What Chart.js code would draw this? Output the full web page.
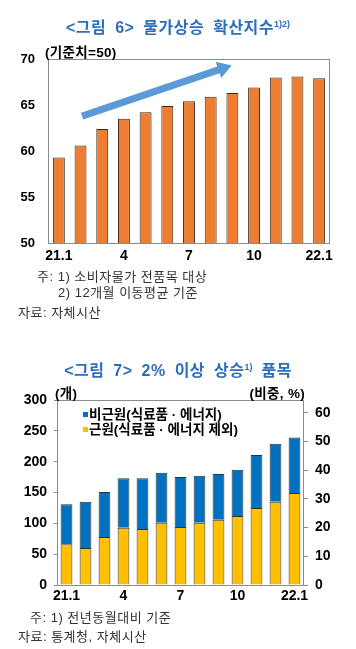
<!DOCTYPE html>
<html><head><meta charset="utf-8">
<script src="https://cdn.jsdelivr.net/npm/chart.js@4/dist/chart.umd.min.js"></script>
<style>
body{margin:0;background:#fff;}
#wrap{position:relative;width:356px;height:649px;overflow:hidden;font-family:"Liberation Sans","Noto Sans CJK KR",sans-serif;color:#000;}
canvas{position:absolute;left:0;}
.t{position:absolute;white-space:nowrap;}
.title{left:0;width:356px;text-align:center;font-weight:bold;font-size:16px;line-height:20px;color:#2e6fba;letter-spacing:0.5px;word-spacing:4px;}
.title sup{font-size:9px;vertical-align:6px;line-height:0;letter-spacing:0;}
.unit{font-weight:bold;font-size:13.5px;line-height:16px;letter-spacing:0.3px;}
.note{font-size:13px;line-height:16px;color:#333;letter-spacing:0.5px;}
.leg{font-weight:bold;font-size:13.5px;line-height:15px;}
.sq{display:inline-block;width:5px;height:5px;margin-right:1px;vertical-align:2px;}
</style></head>
<body><div id="wrap">
<canvas id="c1" width="356" height="270" style="top:0"></canvas>
<canvas id="c2" width="356" height="270" style="top:380px"></canvas>

<div class="t title" style="top:18px">&lt;그림 6&gt; 물가상승 확산지수<sup>1)2)</sup></div>
<div class="t unit" style="left:45px;top:45px">(기준치=50)</div>
<div class="t note" style="left:37px;top:269px">주: 1) 소비자물가 전품목 대상</div>
<div class="t note" style="left:58px;top:285px">2) 12개월 이동평균 기준</div>
<div class="t note" style="left:18px;top:305px">자료: 자체시산</div>

<div class="t title" style="top:361px">&lt;그림 7&gt; 2% 이상 상승<sup>1)</sup> 품목</div>
<div class="t unit" style="left:55px;top:386px">(개)</div>
<div class="t unit" style="right:51px;top:386px">(비중, %)</div>
<div class="t leg" style="left:83px;top:407px"><span class="sq" style="background:#0070c0"></span>비근원(식료품 · 에너지)</div>
<div class="t leg" style="left:83px;top:422px"><span class="sq" style="background:#ffc000"></span>근원(식료품 · 에너지 제외)</div>
<div class="t note" style="left:30px;top:610px">주: 1) 전년동월대비 기준</div>
<div class="t note" style="left:18px;top:629px">자료: 통계청, 자체시산</div>
</div>
<script>
// ---- data ----
const months = ['21.1','2','3','4','5','6','7','8','9','10','11','12','22.1'];
const shownLabels = ['21.1','4','7','10','22.1'];
const diffusionIndex = [59.3,60.6,62.4,63.5,64.2,64.9,65.4,65.9,66.3,66.9,68.0,68.1,67.9];
const coreItems = [66,60,78,93,91,101,94,101,106,112,125,135,149];
const nonCoreItems = [65,75,73,80,82,81,81,76,74,75,86,94,90];
const leftAxis1 = {min:50, max:70, step:5};
const leftAxis2 = {min:0, max:300, step:50};
const rightAxis2 = {min:0, max:64.5, step:10};
const trendArrow = {from:{i:1.07, v:63.8}, to:{i:7.97, v:69.3}};

const FONT = '"Liberation Sans","Noto Sans CJK KR",sans-serif';
const xTick = (val, idx) => shownLabels.includes(months[idx]) ? months[idx] : '';

const boxPlugin = {id:'box', afterDatasetsDraw(chart){
  const {ctx, chartArea:a} = chart;
  ctx.save(); ctx.strokeStyle = '#8c8c8c'; ctx.lineWidth = 1;
  ctx.strokeRect(Math.round(a.left)+0.5, Math.round(a.top)+0.5, Math.round(a.right-a.left)-1, Math.round(a.bottom-a.top));
  ctx.restore();
}};

const arrowPlugin = {id:'arrow', afterDatasetsDraw(chart){
  const xs = chart.scales.x, ys = chart.scales.y, ctx = chart.ctx;
  const x0 = xs.getPixelForValue(trendArrow.from.i), y0 = ys.getPixelForValue(trendArrow.from.v);
  const x1 = xs.getPixelForValue(trendArrow.to.i), y1 = ys.getPixelForValue(trendArrow.to.v);
  const dx = x1-x0, dy = y1-y0, L = Math.hypot(dx,dy);
  const ux = dx/L, uy = dy/L, px = -uy, py = ux;
  const bw = 3.6, hw = 8.5, hl = 14;
  const bx = x1 - ux*hl, by = y1 - uy*hl;
  ctx.save(); ctx.fillStyle = '#5b9bd5';
  ctx.beginPath();
  ctx.moveTo(x0+px*bw, y0+py*bw);
  ctx.lineTo(bx+px*bw, by+py*bw);
  ctx.lineTo(bx+px*hw, by+py*hw);
  ctx.lineTo(x1, y1);
  ctx.lineTo(bx-px*hw, by-py*hw);
  ctx.lineTo(bx-px*bw, by-py*bw);
  ctx.lineTo(x0-px*bw, y0-py*bw);
  ctx.closePath(); ctx.fill(); ctx.restore();
}};

new Chart(document.getElementById('c1'), {
  type:'bar',
  data:{labels:months, datasets:[{data:diffusionIndex, backgroundColor:'#ed7d31', borderColor:'#3a2a22', borderWidth:1, barPercentage:0.55, categoryPercentage:1}]},
  options:{
    responsive:false, animation:false, devicePixelRatio:1,
    layout:{padding:{left:0, right:26, top:59, bottom:7}},
    plugins:{legend:{display:false}, tooltip:{enabled:false}},
    scales:{
      x:{grid:{display:false, drawTicks:false}, border:{display:false},
         ticks:{autoSkip:false, maxRotation:0, padding:5, color:'#000', font:{family:FONT, size:14, weight:'bold'}, callback:xTick},
         afterFit(s){ s.height = 20; }},
      y:{min:leftAxis1.min, max:leftAxis1.max, grid:{display:false, drawTicks:false}, border:{display:false},
         ticks:{stepSize:leftAxis1.step, padding:13, color:'#000', font:{family:FONT, size:13, weight:'bold'}},
         afterFit(s){ s.width = 48; }}
    }
  },
  plugins:[boxPlugin, arrowPlugin]
});

new Chart(document.getElementById('c2'), {
  type:'bar',
  data:{labels:months, datasets:[
    {label:'근원(식료품 · 에너지 제외)', data:coreItems, backgroundColor:'#ffc000', borderColor:'#333', borderWidth:1, barPercentage:0.62, categoryPercentage:1},
    {label:'비근원(식료품 · 에너지)', data:nonCoreItems, backgroundColor:'#0070c0', borderColor:'#333', borderWidth:1, barPercentage:0.62, categoryPercentage:1}
  ]},
  options:{
    responsive:false, animation:false, devicePixelRatio:1,
    layout:{padding:{left:0, right:0, top:20, bottom:45}},
    plugins:{legend:{display:false}, tooltip:{enabled:false}},
    scales:{
      x:{stacked:true, grid:{display:false, drawTicks:false}, border:{display:false},
         ticks:{autoSkip:false, maxRotation:0, padding:3, color:'#000', font:{family:FONT, size:14, weight:'bold'}, callback:xTick},
         afterFit(s){ s.height = 20; }},
      y:{stacked:true, position:'left', min:leftAxis2.min, max:leftAxis2.max,
         grid:{drawOnChartArea:false, drawTicks:true, tickLength:3, tickColor:'#888'}, border:{display:false},
         ticks:{stepSize:leftAxis2.step, padding:7, color:'#000', font:{family:FONT, size:14, weight:'bold'}},
         afterFit(s){ s.width = 57; }},
      y1:{position:'right', min:rightAxis2.min, max:rightAxis2.max,
         grid:{drawOnChartArea:false, drawTicks:true, tickLength:4, tickColor:'#888'}, border:{display:false},
         ticks:{stepSize:rightAxis2.step, includeBounds:false, padding:7, color:'#000', font:{family:FONT, size:14, weight:'bold'}},
         afterBuildTicks(s){ s.ticks = s.ticks.filter(t => t.value % rightAxis2.step === 0); },
         afterFit(s){ s.width = 52; }}
    }
  },
  plugins:[boxPlugin]
});
</script>
</body></html>
